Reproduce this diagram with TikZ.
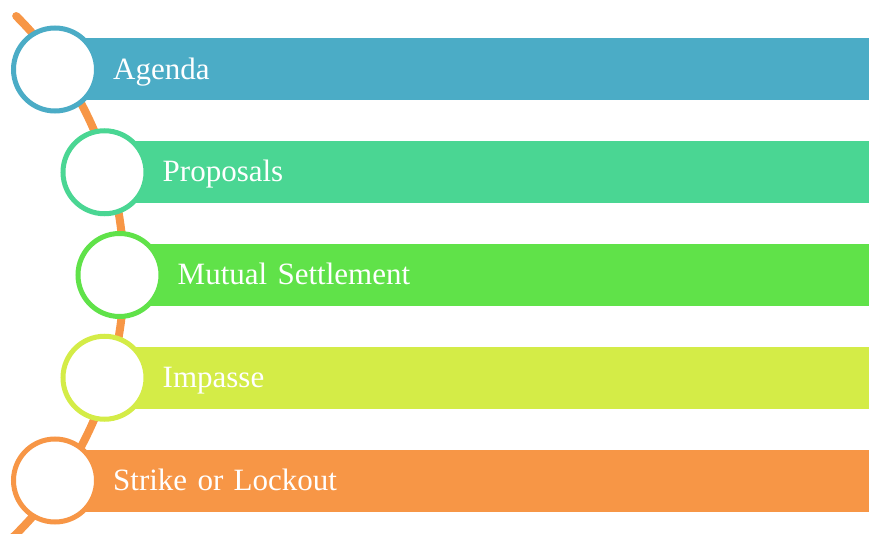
\documentclass[tikz,border=0pt]{standalone}
\usepackage{fontspec}
\setmainfont{Liberation Serif}

\definecolor{agendablue}{HTML}{4BACC6}
\definecolor{proposalgreen}{HTML}{4AD693}
\definecolor{settlegreen}{HTML}{60E249}
\definecolor{impasselime}{HTML}{D4EC47}
\definecolor{strikeorange}{HTML}{F79646}

\tikzset{
  track/.style={draw=strikeorange, line width=8pt, line cap=round},
  ring/.style={circle, draw=#1, line width=5pt, fill=white, minimum size=83pt, inner sep=0pt},
  band/.style={fill=#1, anchor=west, minimum height=62pt, inner xsep=58pt, inner ysep=0pt,
    text height=19.5pt, text depth=0pt,
    align=left, text=white, font=\fontsize{31}{36}\selectfont},
}

\begin{document}
\begin{tikzpicture}[x=1pt,y=-1pt]
\useasboundingbox (0,0) rectangle (869,534);

% stops along the curve
\coordinate (p1) at (55,69.5);
\coordinate (p2) at (104.5,172.25);
\coordinate (p3) at (119.5,275);
\coordinate (p4) at (104.5,377.75);
\coordinate (p5) at (55,480.5);

% the orange line behind everything
\draw[track] (-241,275) ++(-45.2:365) arc[start angle=-45.2, end angle=48, radius=365];

% bars
\node[band=agendablue, text width=698pt] (band1) at (p1) {Agenda};
\node[band=proposalgreen, text width=648.5pt] (band2) at (p2) {Proposals};
\node[band=settlegreen, text width=633.5pt] (band3) at (p3) {Mutual Settlement};
\node[band=impasselime, text width=648.5pt] (band4) at (p4) {Impasse};
\node[band=strikeorange, text width=698pt] (band5) at (p5) {Strike or Lockout};

% rings on top
\node[ring=agendablue] (ring1) at (p1) {};
\node[ring=proposalgreen] (ring2) at (p2) {};
\node[ring=settlegreen] (ring3) at (p3) {};
\node[ring=impasselime] (ring4) at (p4) {};
\node[ring=strikeorange] (ring5) at (p5) {};

\end{tikzpicture}
\end{document}
